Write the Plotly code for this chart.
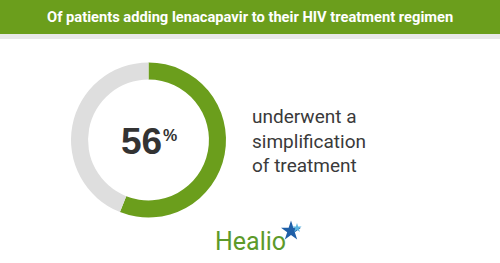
import plotly.graph_objects as go

title_text = "Of patients adding lenacapavir to their HIV treatment regimen"
labels = ["Simplified", "Other"]
values = [56, 44]
center_value = "56"
side_lines = ["underwent a", "simplification", "of treatment"]
brand = "Healio"

W, H = 500, 263
green = "#6b9e1c"
gray = "#dedede"

fig = go.Figure()
cx, cy, r = 148.5, 140, 77.5
fig.add_trace(go.Pie(
    labels=labels, values=values, hole=0.78, sort=False, direction="clockwise",
    rotation=0, marker=dict(colors=[green, gray], line=dict(width=0)),
    textinfo="none", hoverinfo="label+value", showlegend=False,
    domain=dict(x=[(cx - r) / W, (cx + r) / W], y=[(H - cy - r) / H, (H - cy + r) / H]),
))

shapes = [
    dict(type="rect", xref="paper", yref="paper", x0=0, x1=1, y0=(H - 34) / H, y1=1,
         fillcolor=green, line=dict(width=0), layer="below"),
    dict(type="rect", xref="paper", yref="paper", x0=0, x1=1, y0=(H - 39) / H, y1=(H - 34) / H,
         fillcolor="#e8e8e8", line=dict(width=0), layer="below"),
]

annotations = [
    dict(text="<b>" + title_text + "</b>", x=0.5, y=(H - 17) / H, xref="paper", yref="paper",
         showarrow=False, font=dict(family="Roboto", size=14.7, color="white"),
         xanchor="center", yanchor="middle"),
    dict(text="<b>" + center_value + "</b>", x=(164) / W, y=(H - 141) / H, xref="paper", yref="paper",
         showarrow=False, font=dict(family="Liberation Sans, Arial", size=37, color="#333333"),
         xanchor="right", yanchor="middle"),
    dict(text="<b>%</b>", x=(161) / W, y=(H - 135) / H, xref="paper", yref="paper",
         showarrow=False, font=dict(family="Liberation Sans, Arial", size=16, color="#333333"),
         xanchor="left", yanchor="middle"),
    dict(text="<br>".join(side_lines), x=250 / W, y=(H - 141) / H, xref="paper", yref="paper",
         showarrow=False, align="left", font=dict(family="Roboto", size=19, color="#3a3a3a"),
         xanchor="left", yanchor="middle"),
    dict(text=brand, x=213 / W, y=(H - 241) / H, xref="paper", yref="paper",
         showarrow=False, font=dict(family="Roboto", size=25, color="#5d9a2a"),
         xanchor="left", yanchor="middle"),
]

# star icon of logo
fig.add_trace(go.Scatter(x=[291], y=[H - 231], mode="markers",
                         marker=dict(symbol="star", size=15, color="#1f5fa8"),
                         hoverinfo="skip", showlegend=False))
fig.add_trace(go.Scatter(x=[297], y=[H - 228], mode="markers",
                         marker=dict(symbol="star", size=7, color="#5bb5e0"),
                         hoverinfo="skip", showlegend=False))

fig.update_layout(
    width=W, height=H, margin=dict(l=0, r=0, t=0, b=0),
    paper_bgcolor="white", plot_bgcolor="rgba(0,0,0,0)",
    shapes=shapes, annotations=annotations,
    xaxis=dict(range=[0, W], visible=False, fixedrange=True),
    yaxis=dict(range=[0, H], visible=False, fixedrange=True),
)
fig.write_html("out.html")
